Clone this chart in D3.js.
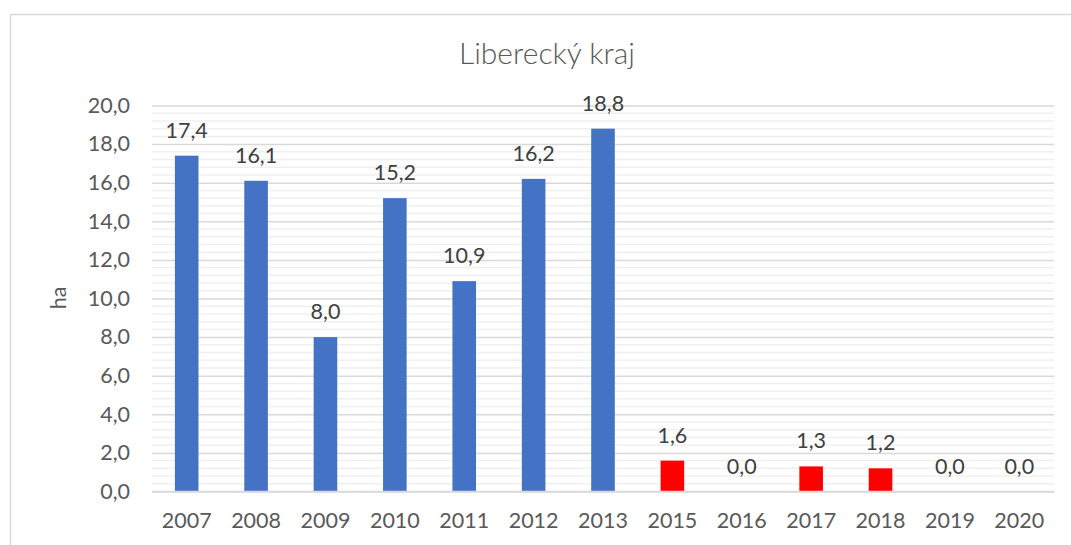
<!DOCTYPE html>
<html><head><meta charset="utf-8">
<script src="https://cdn.jsdelivr.net/npm/d3@7"></script>
<style>body{margin:0;background:#fff;} svg{display:block;font-family:Lato, "Open Sans", sans-serif;}</style>
</head><body><svg id="c" width="1071" height="545"></svg>
<script>
const categories = ["2007","2008","2009","2010","2011","2012","2013","2015","2016","2017","2018","2019","2020"];
const values = [17.4,16.1,8.0,15.2,10.9,16.2,18.8,1.6,0.0,1.3,1.2,0.0,0.0];
const barColors = ["#4472C4","#4472C4","#4472C4","#4472C4","#4472C4","#4472C4","#4472C4","#FF0000","#FF0000","#FF0000","#FF0000","#FF0000","#FF0000"];
const yTicks = [0,2,4,6,8,10,12,14,16,18,20];
const title = "Liberecký kraj";
const yTitle = "ha";

const svg = d3.select("#c");
const fmt = v => d3.format(".1f")(v).replace(".", ",");
const m = {l:152, r:1054, t:105.5, b:491.5};

svg.append("rect").attr("x",10.5).attr("y",14.5).attr("width",1100).attr("height",600)
  .attr("fill","none").attr("stroke","#d9d9d9").attr("stroke-width",1.5);

const x = d3.scaleBand().domain(categories).range([m.l,m.r]).paddingInner(0.66).paddingOuter(0.33);
const y = d3.scaleLinear().domain([0,20]).range([m.b,m.t]);

// minor grid
const minor = d3.range(0,20.001,0.4).filter(v => Math.abs(v/2 - Math.round(v/2))>1e-6);
svg.append("g").selectAll("line").data(minor).join("line")
  .attr("x1",m.l).attr("x2",m.r).attr("y1",d=>y(d)).attr("y2",d=>y(d))
  .attr("stroke","#f0f0f0").attr("stroke-width",1.5);

// major grid via axis
const yAxis = d3.axisLeft(y).tickValues(yTicks).tickFormat(fmt).tickSize(-(m.r-m.l)).tickPadding(22);
const gy = svg.append("g").attr("transform",`translate(${m.l},0)`).call(yAxis);
gy.select(".domain").remove();
gy.selectAll(".tick line").attr("stroke","#d9d9d9").attr("stroke-width",1.5);
gy.selectAll(".tick text").attr("fill","#595959").style("font-size","21.5px").style("font-family","Lato");

// bars
svg.append("g").selectAll("rect").data(values).join("rect")
  .attr("x",(d,i)=>x(categories[i])).attr("width",x.bandwidth())
  .attr("y",d=>y(d)).attr("height",d=>y(0)-y(d))
  .attr("fill",(d,i)=>barColors[i]);

// baseline
svg.append("line").attr("x1",m.l).attr("x2",m.r).attr("y1",y(0)).attr("y2",y(0))
  .attr("stroke","#d9d9d9").attr("stroke-width",1.5);

// data labels
svg.append("g").selectAll("text").data(values).join("text")
  .attr("x",(d,i)=>x(categories[i])+x.bandwidth()/2)
  .attr("y",d=>y(d)-18)
  .attr("text-anchor","middle").attr("fill","#404040").style("font-size","21.5px")
  .text(d=>fmt(d));

// x axis
const xAxis = d3.axisBottom(x).tickSize(0).tickPadding(21);
const gx = svg.append("g").attr("transform",`translate(0,${m.b})`).call(xAxis);
gx.select(".domain").remove();
gx.selectAll(".tick text").attr("fill","#595959").style("font-size","21.5px").style("font-family","Lato");

// title
svg.append("text").attr("x",547).attr("y",64).attr("text-anchor","middle")
  .attr("fill","#595959").style("font-size","30px").style("font-weight","300").text(title);

// y title
svg.append("text").attr("transform","translate(66,298) rotate(-90)").attr("text-anchor","middle")
  .attr("fill","#595959").style("font-size","21.5px").text(yTitle);
</script></body></html>
